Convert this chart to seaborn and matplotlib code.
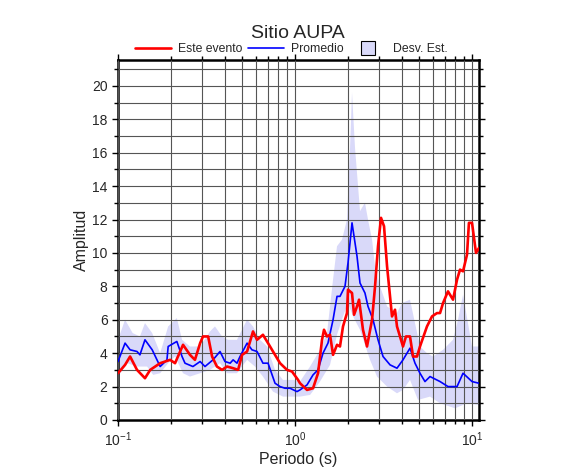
import numpy as np
import matplotlib
matplotlib.use("Agg")
import matplotlib.pyplot as plt
from matplotlib.ticker import LogLocator, MultipleLocator
from matplotlib.lines import Line2D
import seaborn as sns

# ---- data ----
# Este evento (red)
evento_T = [0.100, 0.1096, 0.117, 0.128, 0.142, 0.152, 0.173, 0.197, 0.210, 0.233,
            0.255, 0.272, 0.291, 0.302, 0.323, 0.340, 0.362, 0.387, 0.413, 0.447,
            0.477, 0.502, 0.536, 0.579, 0.610, 0.659, 0.704, 0.751, 0.823, 0.901,
            0.962, 1.040, 1.067, 1.169, 1.264, 1.349, 1.421, 1.458, 1.516, 1.577,
            1.640, 1.727, 1.795, 1.867, 1.966, 1.992, 2.099, 2.155, 2.240, 2.300,
            2.421, 2.551, 2.724, 2.832, 2.944, 3.061, 3.183, 3.311, 3.532, 3.672,
            3.768, 3.918, 4.074, 4.236, 4.463, 4.643, 4.888, 5.082, 5.566, 5.942,
            6.342, 6.597, 6.860, 7.315, 7.811, 8.229, 8.553, 8.897, 9.369, 9.606,
            10.0, 10.53, 10.95]
evento_A = [2.8, 3.3, 3.8, 3.0, 2.5, 3.0, 3.4, 3.6, 3.4, 4.5,
            3.9, 3.6, 4.6, 5.0, 5.0, 3.8, 3.2, 3.0, 3.2, 3.1,
            3.0, 3.9, 4.1, 5.3, 4.8, 5.1, 4.6, 4.1, 3.4, 3.0,
            2.9, 2.4, 2.2, 1.8, 1.9, 2.8, 4.8, 5.4, 5.0, 5.1,
            3.9, 4.5, 4.4, 5.6, 6.4, 7.8, 7.6, 6.3, 6.8, 7.2,
            5.4, 4.4, 6.0, 8.0, 10.4, 12.1, 11.6, 9.2, 6.2, 6.6,
            5.6, 5.0, 4.4, 5.0, 5.0, 3.8, 3.8, 4.4, 5.6, 6.2,
            6.4, 6.4, 7.0, 7.7, 7.2, 8.4, 9.0, 8.9, 9.9, 11.8,
            11.8, 10.0, 10.3]

# Promedio (blue)
prom_T = [0.100, 0.1096, 0.117, 0.128, 0.133, 0.142, 0.156, 0.173, 0.189, 0.192,
          0.215, 0.230, 0.239, 0.265, 0.291, 0.310, 0.344, 0.377, 0.402, 0.430,
          0.447, 0.470, 0.489, 0.536, 0.571, 0.610, 0.659, 0.704, 0.771, 0.823,
          0.878, 0.937, 1.026, 1.067, 1.169, 1.264, 1.349, 1.439, 1.535, 1.640,
          1.727, 1.795, 1.916, 1.992, 2.099, 2.240, 2.329, 2.484, 2.584, 2.759,
          2.944, 3.142, 3.442, 3.768, 4.074, 4.463, 4.763, 5.082, 5.423, 5.791,
          6.597, 7.315, 8.229, 8.897, 10.0, 10.95]
prom_A = [3.5, 4.6, 4.2, 4.1, 3.9, 4.8, 4.2, 3.2, 3.6, 4.4,
          4.7, 3.8, 3.4, 3.2, 3.5, 3.2, 3.6, 4.1, 3.5, 3.4,
          3.6, 3.4, 3.8, 4.6, 4.2, 4.1, 3.4, 3.4, 2.2, 2.0,
          1.9, 1.9, 1.7, 1.8, 2.1, 2.7, 3.0, 4.0, 4.6, 6.0,
          7.4, 7.4, 8.0, 9.4, 11.8, 9.8, 8.2, 7.6, 6.8, 6.0,
          4.8, 3.8, 3.3, 3.1, 3.6, 4.3, 3.4, 2.8, 2.3, 2.6,
          2.3, 2.0, 2.0, 2.8, 2.3, 2.2]

# Desv. Est. band
sup_T = [0.100, 0.1096, 0.121, 0.133, 0.142, 0.156, 0.173, 0.192, 0.215, 0.230,
         0.255, 0.291, 0.331, 0.353, 0.387, 0.418, 0.470, 0.536, 0.579, 0.634,
         0.695, 0.771, 0.855, 0.975, 1.067, 1.216, 1.384, 1.516, 1.640, 1.727,
         1.844, 1.966, 2.046, 2.099, 2.182, 2.329, 2.484, 2.584, 2.724, 2.832,
         3.022, 3.311, 3.768, 4.023, 4.463, 4.763, 5.082, 5.566, 6.021, 6.860,
         7.811, 8.334, 8.897, 9.487, 10.0, 10.95]
sup_A = [4.8, 6.0, 5.2, 5.0, 5.8, 5.2, 4.0, 5.6, 6.1, 4.8,
         4.4, 4.4, 5.3, 5.6, 5.0, 4.8, 4.8, 6.0, 5.6, 4.8,
         4.4, 3.0, 2.4, 2.4, 2.3, 3.2, 4.2, 5.2, 8.4, 10.4,
         10.8, 12.0, 16.3, 19.6, 16.3, 12.5, 13.0, 12.0, 10.8, 9.2,
         8.0, 6.8, 6.4, 7.0, 7.2, 5.8, 4.4, 4.0, 3.8, 4.2,
         4.8, 6.0, 7.5, 5.8, 4.4, 4.4]
inf_T = [0.100, 0.113, 0.128, 0.146, 0.158, 0.173, 0.192, 0.210, 0.233, 0.255,
         0.291, 0.331, 0.377, 0.413, 0.470, 0.536, 0.594, 0.659, 0.751, 0.855,
         0.962, 1.067, 1.216, 1.384, 1.577, 1.727, 1.867, 1.992, 2.127, 2.329,
         2.653, 2.906, 3.311, 3.768, 4.074, 4.463, 4.951, 5.791, 6.597, 8.017,
         9.369, 10.95]
inf_A = [2.6, 3.4, 3.2, 3.2, 2.7, 2.8, 3.4, 3.8, 2.8, 2.6,
         2.8, 3.0, 3.4, 2.8, 2.8, 3.6, 3.2, 2.6, 1.7, 1.4,
         1.4, 1.4, 1.5, 2.3, 3.3, 5.1, 6.2, 7.0, 6.2, 5.4,
         3.6, 2.6, 2.0, 1.6, 1.8, 2.4, 1.2, 1.4, 1.0, 0.7,
         1.0, 0.9]

# ---- style ----
sns.set_style("ticks")
plt.rcParams['font.family'] = ['Liberation Sans', 'DejaVu Sans']
plt.rcParams['mathtext.default'] = 'regular'

band_color = '#d9d9f9'

fig = plt.figure(figsize=(5.86, 4.75), dpi=100)
ax = fig.add_axes([0.2014, 0.1158, 0.616, 0.758])

# band polygon
ax.fill(np.concatenate([sup_T, inf_T[::-1]]),
        np.concatenate([sup_A, inf_A[::-1]]),
        color=band_color, lw=0, zorder=1)

sns.lineplot(x=prom_T, y=prom_A, ax=ax, color='#0000ff', lw=1.2, zorder=3)
sns.lineplot(x=evento_T, y=evento_A, ax=ax, color='#ff0000', lw=1.9, zorder=4)

ax.set_xscale('log')
ax.set_xlim(0.1, 10.95)
ax.set_ylim(0, 21.55)

ax.xaxis.set_major_locator(LogLocator(base=10))
ax.xaxis.set_minor_locator(LogLocator(base=10, subs=np.arange(2, 10)))
ax.yaxis.set_major_locator(MultipleLocator(2))
ax.yaxis.set_minor_locator(MultipleLocator(1))

ax.grid(True, which='both', color='#555555', lw=0.8)
ax.set_axisbelow(False)
for gl in ax.get_xgridlines() + ax.get_ygridlines():
    gl.set_zorder(2)

for s in ax.spines.values():
    s.set_linewidth(1.8)
    s.set_color('black')
    s.set_visible(True)

ax.tick_params(which='both', direction='out', top=True, right=True,
               labelsize=10, width=1, color='black')
ax.tick_params(which='major', length=4)
ax.tick_params(which='minor', length=3)

ax.set_xlabel('Periodo (s)', fontsize=11.5, labelpad=2)
ax.set_ylabel('Amplitud', fontsize=11.5, labelpad=2)

fig.text(0.509, 0.929, 'Sitio AUPA', ha='center', va='center', fontsize=14)

handles = [Line2D([0], [0], color='#ff0000', lw=1.9),
           Line2D([0], [0], color='#0000ff', lw=1.2),
           Line2D([0], [0], ls='', marker='s', markersize=10,
                  markerfacecolor=band_color, markeredgecolor='black',
                  markeredgewidth=0.8)]
fig.legend(handles, ['Este evento', 'Promedio', 'Desv. Est.'],
           loc='center', bbox_to_anchor=(0.497, 0.897), ncol=3, frameon=False,
           fontsize=8.8, handlelength=2.9, handletextpad=0.6, columnspacing=0.5,
           borderpad=0)

fig.savefig('out.png', dpi=100)
